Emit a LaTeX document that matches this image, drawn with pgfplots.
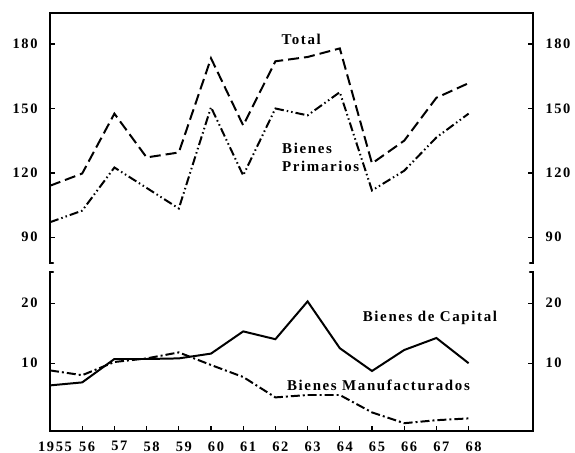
\documentclass[border=0pt]{standalone}
\usepackage{fontspec}
\setmainfont{Liberation Serif}
\newfontfamily\spaced{Liberation Serif}[LetterSpace=11]
\usepackage{pgfplots}
\pgfplotsset{compat=1.18}
\pgfplotstableread{
year total prim
1955 114.0 97.0
1956 119.7 102.4
1957 147.6 122.5
1958 127.2 113.0
1959 129.5 103.4
1960 173.4 150.6
1961 142.1 118.8
1962 172.0 150.0
1963 174.0 146.8
1964 178.0 157.6
1965 124.4 111.8
1966 135.0 121.0
1967 155.0 136.5
1968 161.8 147.6
}\toptable
\pgfplotstableread{
year cap manu
1955 6.3 8.8
1956 6.8 8.0
1957 10.7 10.2
1958 10.7 10.8
1959 10.8 11.8
1960 11.6 9.7
1961 15.3 7.7
1962 14.0 4.3
1963 20.3 4.7
1964 12.5 4.7
1965 8.7 1.8
1966 12.2 0.0
1967 14.2 0.5
1968 10.0 0.8
}\bottable
\pgfplotsset{
  base/.style={scale only axis, width=483bp, xmin=1955, xmax=1970,
    axis line style={draw=none}, clip=false,
    tick style={black, line width=1.3pt}, major tick length=5bp,
    tick label style={font=\spaced\fontsize{14.5}{16}\selectfont\bfseries},
    /pgf/number format/assume math mode=true},
}
\tikzset{
  frame/.style={line width=2.3pt, line cap=round},
  lab/.style={font=\spaced\fontsize{15}{18}\selectfont\bfseries},
}
\begin{document}
\begin{tikzpicture}
\useasboundingbox (-50bp,-22bp) rectangle (525bp,431bp);
% top panel
\begin{axis}[base, at={(0bp,168bp)}, height=250bp, ymin=78, ymax=194.5,
  ytick={90,120,150,180}, xtick=\empty, ytick pos=both, yticklabel pos=left,
  yticklabel style={xshift=-9bp}]
  \addplot[black, line width=2pt, dash pattern=on 11bp off 5bp] table[x=year,y=total]{\toptable};
  \addplot[black, line width=2pt, dash pattern=on 9bp off 3bp on 1.5bp off 3bp on 1.5bp off 3bp] table[x=year,y=prim]{\toptable};
  \draw[frame] ([xshift=3bp]rel axis cs:0,0) -- (rel axis cs:0,0) -- (rel axis cs:0,1) -- (rel axis cs:1,1) -- (rel axis cs:1,0) -- ([xshift=-3bp]rel axis cs:1,0);
  \node[lab] at (axis cs:1962.8,182) {Total};
  \node[lab, anchor=west, align=left] at (axis cs:1962.1,127) {Bienes\\Primarios};
\end{axis}
\begin{axis}[base, at={(0bp,168bp)}, height=250bp, ymin=78, ymax=194.5,
  ytick={90,120,150,180}, xtick=\empty, ytick pos=right, yticklabel pos=right,
  tick style={draw=none}, yticklabel style={xshift=9bp}]
  \addplot[draw=none] coordinates {(1955,100)};
\end{axis}
% bottom panel
\begin{axis}[base, at={(0bp,0bp)}, height=159bp, ymin=-1.3, ymax=25.2,
  ytick={10,20}, xtick={1955,...,1968},
  xticklabels={1955,56,57,58,59,60,61,62,63,64,65,66,67,68},
  xtick pos=bottom, xticklabel style={xshift=5bp, yshift=-7bp},
  ytick pos=both, yticklabel pos=left, yticklabel style={xshift=-9bp}]
  \addplot[black, line width=2pt] table[x=year,y=cap]{\bottable};
  \addplot[black, line width=2pt, dash pattern=on 9bp off 3bp on 2bp off 3bp] table[x=year,y=manu]{\bottable};
  \draw[frame] ([xshift=3bp]rel axis cs:0,1) -- (rel axis cs:0,1) -- (rel axis cs:0,0) -- (rel axis cs:1,0) -- (rel axis cs:1,1) -- ([xshift=-3bp]rel axis cs:1,1);
  \node[lab] at (axis cs:1966.8,17.5) {Bienes de Capital};
  \node[lab] at (axis cs:1965.2,6.3) {Bienes Manufacturados};
\end{axis}
\begin{axis}[base, at={(0bp,0bp)}, height=159bp, ymin=-1.3, ymax=25.2,
  ytick={10,20}, xtick=\empty, ytick pos=right, yticklabel pos=right,
  tick style={draw=none}, yticklabel style={xshift=9bp}]
  \addplot[draw=none] coordinates {(1955,10)};
\end{axis}
\end{tikzpicture}
\end{document}
